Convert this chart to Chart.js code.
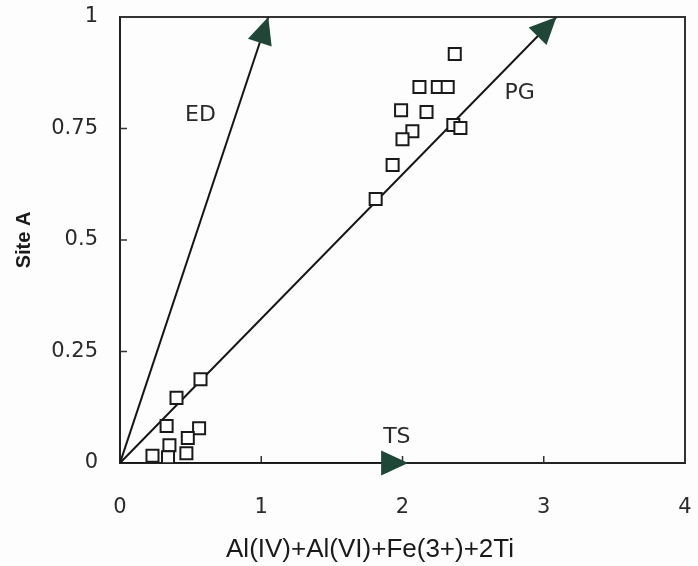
<!DOCTYPE html>
<html>
<head>
<meta charset="utf-8">
<script src="https://cdn.jsdelivr.net/npm/chart.js@4/dist/chart.umd.min.js"></script>
<style>
html,body{margin:0;padding:0;background:#fdfdfd;}
#wrap{width:698px;height:566px;}
</style>
</head>
<body>
<div id="wrap"><canvas id="c" width="698" height="566"></canvas></div>
<script>
// Data
const pointX = [0.57,0.40,0.33,0.56,0.48,0.35,0.23,0.34,0.47, 2.37,2.12,2.25,2.32,1.99,2.17,2.07,2.00,2.36,2.41,1.93,1.81];
const pointY = [0.188,0.146,0.083,0.078,0.056,0.040,0.016,0.013,0.022, 0.917,0.843,0.843,0.843,0.791,0.787,0.744,0.726,0.758,0.751,0.668,0.592];
const xTicks = [0,1,2,3,4];
const yTicks = [0,0.25,0.5,0.75,1];
const yTickLabels = ['0','0.25','0.5','0.75','1'];
const xTitle = 'Al(IV)+Al(VI)+Fe(3+)+2Ti';
const yTitle = 'Site A';
// Vectors: name, tip x, tip y, label x, label y
const vecNames = ['ED','PG','TS'];
const vecTipX = [1.05,3.09,2.04];
const vecTipY = [1,1,0];
const vecLabelX = [0.57,2.83,1.96];
const vecLabelY = [0.78,0.83,0.058];

const ARROW = '#1f4636';
const INK = '#2a2a2a';

const lineSets = vecNames.map((n,i)=>({
  type:'line', label:n,
  data:[{x:0,y:0},{x:vecTipX[i],y:vecTipY[i]}],
  borderColor:'#151515', borderWidth:2, pointRadius:0, fill:false, tension:0,
  order:2
}));

const decor = {
  id:'decor',
  beforeDatasetsDraw(chart){
    const {ctx, chartArea:a, scales:{x,y}} = chart;
    ctx.save();
    ctx.strokeStyle = '#333'; ctx.lineWidth = 2;
    ctx.beginPath();
    ctx.moveTo(a.left, a.top); ctx.lineTo(a.right, a.top); ctx.lineTo(a.right, a.bottom);
    ctx.stroke();
    ctx.lineWidth = 1.5;
    ctx.beginPath();
    xTicks.forEach(v=>{ if(v>0 && v<4){ const px=x.getPixelForValue(v); ctx.moveTo(px,a.bottom); ctx.lineTo(px,a.bottom-7);} });
    yTicks.forEach(v=>{ if(v>0 && v<1){ const py=y.getPixelForValue(v); ctx.moveTo(a.left,py); ctx.lineTo(a.left+7,py);} });
    ctx.stroke();
    ctx.restore();
  },
  afterDatasetsDraw(chart){
    const {ctx, scales:{x,y}} = chart;
    ctx.save();
    vecNames.forEach((n,i)=>{
      const x0=x.getPixelForValue(0), y0=y.getPixelForValue(0);
      const tx=x.getPixelForValue(vecTipX[i]), ty=y.getPixelForValue(vecTipY[i]);
      const ang=Math.atan2(ty-y0, tx-x0);
      const L=27, W=12.5;
      const bx=tx-L*Math.cos(ang), by=ty-L*Math.sin(ang);
      ctx.fillStyle=ARROW;
      ctx.beginPath();
      ctx.moveTo(tx,ty);
      ctx.lineTo(bx+W*Math.sin(ang), by-W*Math.cos(ang));
      ctx.lineTo(bx-W*Math.sin(ang), by+W*Math.cos(ang));
      ctx.closePath(); ctx.fill();
      ctx.fillStyle=INK;
      ctx.font='22px "DejaVu Sans"';
      ctx.textAlign='center'; ctx.textBaseline='middle';
      ctx.fillText(n, x.getPixelForValue(vecLabelX[i]), y.getPixelForValue(vecLabelY[i]));
    });
    // x-axis title (placed as in the reference, left of plot centre)
    ctx.fillStyle='#1a1a1a';
    ctx.font='26px "Liberation Sans"';
    ctx.textAlign='center'; ctx.textBaseline='middle';
    ctx.fillText(xTitle, x.getPixelForValue(1.77), 550);
    ctx.restore();
  }
};

new Chart(document.getElementById('c'), {
  type:'scatter',
  data:{ datasets:[
    ...lineSets,
    { label:'samples', data:pointX.map((v,i)=>({x:v,y:pointY[i]})),
      pointStyle:'rect', pointRadius:8.5, pointHoverRadius:8.5,
      backgroundColor:'#ffffff', borderColor:'#1a1a1a', borderWidth:2, order:1 }
  ]},
  options:{
    responsive:false, animation:false,
    layout:{padding:{top:17,right:13,left:0,bottom:0}},
    plugins:{legend:{display:false}, tooltip:{enabled:false}},
    scales:{
      x:{ type:'linear', min:0, max:4,
        afterBuildTicks(s){ s.ticks = xTicks.map(v=>({value:v})); },
        afterFit(s){ s.height = 103; s.paddingLeft = 0; s.paddingRight = 0; },
        grid:{display:false, drawTicks:false},
        border:{display:true, color:'#222', width:2},
        ticks:{ padding:32, color:INK, font:{family:'"DejaVu Sans"', size:21},
          callback:(v)=>String(v), maxRotation:0 },
        title:{ display:false }
      },
      y:{ type:'linear', min:0, max:1,
        afterBuildTicks(s){ s.ticks = yTicks.map(v=>({value:v})); },
        afterFit(s){ s.width = 120; s.paddingTop = 0; s.paddingBottom = 0; },
        grid:{display:false, drawTicks:false},
        border:{display:true, color:'#222', width:2},
        ticks:{ padding:22, color:INK, font:{family:'"DejaVu Sans"', size:21},
          callback:(v)=>{ const k=yTicks.indexOf(v); return k>=0?yTickLabels[k]:''; } },
        title:{ display:true, text:yTitle, color:'#1a1a1a',
          font:{family:'"Liberation Sans"', size:20, weight:'bold'}, padding:{top:12, bottom:0} }
      }
    }
  },
  plugins:[decor]
});
</script>
</body>
</html>
